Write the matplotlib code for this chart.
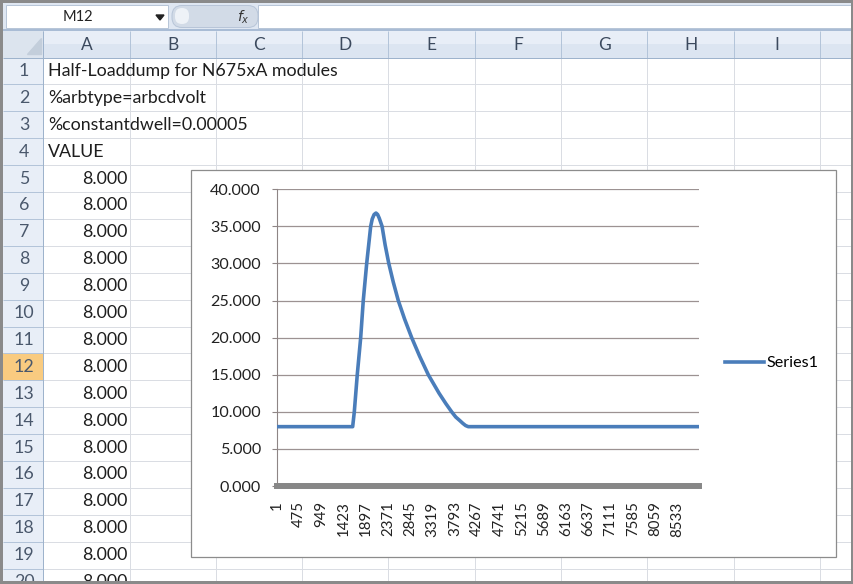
import matplotlib
matplotlib.use("Agg")
import matplotlib.pyplot as plt
from matplotlib.patches import Rectangle, Polygon, FancyBboxPatch

plt.rcParams['font.family'] = ['Lato', 'DejaVu Sans']

# chart series (sample number -> volts)
sample_idx = [1, 1613, 1648, 1711, 1784, 1839, 1912, 1997, 2030, 2070, 2110,
              2145, 2180, 2240, 2305, 2383, 2478, 2585, 2720, 2871, 3040,
              3225, 3455, 3600, 3723, 3810, 3900, 3960, 4020, 4077, 9000]
volts = [8.0, 8.0, 10.0, 15.0, 20.0, 25.0, 30.0, 35.0, 36.0, 36.6, 36.8,
         36.6, 36.1, 35.0, 32.5, 30.0, 27.5, 25.0, 22.5, 20.0, 17.5,
         15.0, 12.5, 11.1, 10.0, 9.3, 8.8, 8.45, 8.15, 8.0, 8.0]
n_samples = 9000
cat_ticks = [1, 475, 949, 1423, 1897, 2371, 2845, 3319, 3793, 4267, 4741,
             5215, 5689, 6163, 6637, 7111, 7585, 8059, 8533]
y_ticks = [0, 5, 10, 15, 20, 25, 30, 35, 40]
series_name = "Series1"

# sheet contents
name_box = "M12"
col_names = ["A", "B", "C", "D", "E", "F", "G", "H", "I"]
text_rows = ["Half-Loaddump for N675xA modules", "%arbtype=arbcdvolt",
             "%constantdwell=0.00005", "VALUE"]
col_a_values = [8.000, 8.000, 8.000, 8.000, 8.000, 8.000, 8.000, 8.000,
                8.000, 8.000, 8.000, 8.000, 8.000, 8.000, 8.000, 8.000]
selected_row = 12

W, H = 854, 584
col_x0, col_w = 43.3, 86.3
row_y0, row_h = 57.5, 26.9
PX = 0.72  # points per pixel at dpi 100
sheet_fs = 12.8

fig = plt.figure(figsize=(W / 100, H / 100), dpi=100)
bg = fig.add_axes([0, 0, 1, 1])
bg.set_xlim(0, W)
bg.set_ylim(H, 0)
bg.axis('off')


def box(x0, y0, x1, y1, fc, ec='none', lw=0, z=1):
    bg.add_patch(Rectangle((x0, y0), x1 - x0, y1 - y0, facecolor=fc,
                           edgecolor=ec, linewidth=lw, zorder=z))


def line(xs, ys, c, lw=1, z=2):
    bg.plot(xs, ys, color=c, lw=lw * PX, zorder=z, solid_capstyle='butt')


box(0, 0, W, H, 'white')

# formula bar
box(3, 3, 851, 30, '#DFE7F2')
box(6, 5, 168, 28, 'white', '#B7C5D8', 0.7)
bg.text(78, 17, name_box, ha='center', va='center', fontsize=10.5, color='#222222')
bg.add_patch(Polygon([(156, 15), (164, 15), (160, 20)], closed=True,
                     color='#222222', zorder=3))
bg.add_patch(FancyBboxPatch((172, 5.5), 86, 22, boxstyle="round,pad=0,rounding_size=10",
                            facecolor='#D2DBE7', edgecolor='#B7C5D8', lw=0.7, zorder=2))
bg.add_patch(FancyBboxPatch((175, 8), 14, 16, boxstyle="round,pad=0,rounding_size=7",
                            facecolor='#EEF2F7', edgecolor='none', zorder=3))
bg.text(243, 17, r'$f_x$', ha='center', va='center', fontsize=10, color='#333333')
box(258, 5, 851, 28, 'white', '#B7C5D8', 0.7)
line([3, 851], [29.5, 29.5], '#A9BCD5', 2)

# column header row
box(3, 31, 851, row_y0, '#E8EEF7')
box(3, 44, 851, row_y0, '#DCE5F1')
for k in range(len(col_names) + 1):
    x = col_x0 + k * col_w
    line([x, x], [31, row_y0], '#B3C4D9', 1, 3)
for k, c in enumerate(col_names):
    bg.text(col_x0 + (k + 0.5) * col_w, 44.5, c, ha='center', va='center',
            fontsize=12.5, color='#3C4A5E')
line([3, 851], [row_y0, row_y0], '#9EB3CC', 1, 3)

# corner cell
box(3, 31, col_x0, row_y0, '#DCE4EE', z=2)
bg.add_patch(Polygon([(41, 38), (41, 54), (27, 54)], closed=True,
                     color='#C3CEDB', zorder=3))

# row headers + cell grid
n_rows = len(text_rows) + len(col_a_values)
box(3, row_y0, col_x0, 581, '#E8EEF7')
for r in range(1, n_rows + 1):
    top = row_y0 + (r - 1) * row_h
    if r == selected_row:
        box(3, top, col_x0, top + row_h, '#F9CB80', z=1.5)
    line([3, col_x0], [top + row_h, top + row_h], '#B3C4D9', 1, 3)
    line([col_x0, 851], [top + row_h, top + row_h], '#DADDE3', 1, 2)
    bg.text(24, top + row_h / 2, str(r), ha='center', va='center',
            fontsize=sheet_fs, color='#4A586C')
for k in range(1, len(col_names) + 1):
    x = col_x0 + k * col_w
    line([x, x], [row_y0, 581], '#DADDE3', 1, 2)
line([col_x0, col_x0], [31, 581], '#9EB3CC', 1, 3)

# cell text
for r, t in enumerate(text_rows):
    bg.text(col_x0 + 4.5, row_y0 + (r + 0.5) * row_h, t, ha='left', va='center',
            fontsize=sheet_fs, color='#1E1E1E', zorder=4)
for r, v in enumerate(col_a_values):
    bg.text(col_x0 + col_w - 2, row_y0 + (len(text_rows) + r + 0.5) * row_h,
            "%.3f" % v, ha='right', va='center', fontsize=sheet_fs,
            color='#1E1E1E', zorder=4)

# chart area
box(191.5, 169.5, 836, 557, 'white', '#8C8C8C', 0.9, z=5)

# window frame
box(0, 0, W, 3, '#8A8A8A', z=20)
box(0, 581, W, H, '#8A8A8A', z=20)
box(0, 0, 3, H, '#8A8A8A', z=20)
box(851, 0, W, H, '#8A8A8A', z=20)

# plot area (pixel box: x 277..699, y 189..486)
ax = fig.add_axes([277 / W, (H - 486) / H, (699.3 - 277) / W, (486 - 189.3) / H])
ax.set_zorder(10)
ax.patch.set_alpha(0)
ax.plot(sample_idx, volts, color='#4A7DBA', lw=2.6, label=series_name,
        solid_joinstyle='round', zorder=3)
ax.set_xlim(0.5, n_samples + 0.5)
ax.set_ylim(0, 40)
ax.set_yticks(y_ticks)
ax.set_yticklabels(["%.3f" % v for v in y_ticks])
ax.set_xticks(cat_ticks)
ax.set_xticklabels([str(c) for c in cat_ticks], rotation=90)
ax.grid(axis='y', color='#9C9292', lw=0.9)
ax.set_axisbelow(True)
for s in ('top', 'right'):
    ax.spines[s].set_visible(False)
ax.spines['left'].set_color('#8E8585')
ax.spines['left'].set_linewidth(0.8)
ax.spines['bottom'].set_color('#878787')
ax.spines['bottom'].set_linewidth(4.3)
ax.spines['bottom'].set_zorder(4)
ax.tick_params(axis='y', length=3.6, width=0.8, color='#8E8585', pad=8,
               labelsize=11.6, labelcolor='#222222')
ax.tick_params(axis='x', length=0, pad=11, labelsize=10.8, labelcolor='#222222')

ax.legend(loc='center left', bbox_to_anchor=(725 / W, (H - 363) / H),
          bbox_transform=fig.transFigure, frameon=False, fontsize=11.6,
          handlelength=2.4, handletextpad=0.2, borderpad=0, borderaxespad=0)

plt.savefig("out.png", dpi=100)
